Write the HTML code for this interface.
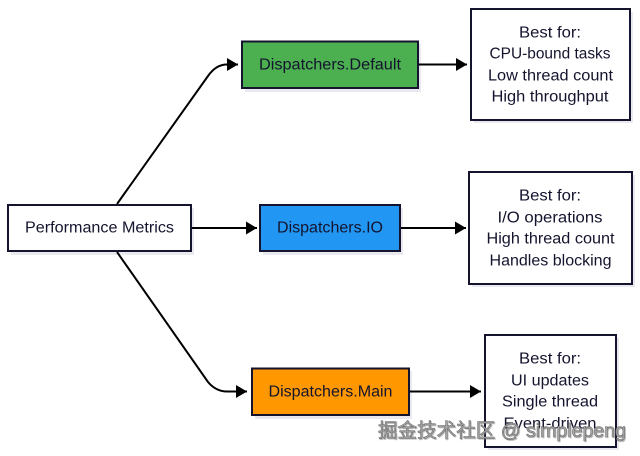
<!DOCTYPE html>
<html>
<head>
<meta charset="utf-8">
<style>
html,body{margin:0;padding:0;background:#fff;width:640px;height:456px;overflow:hidden}
svg{display:block}
text{font-family:"Liberation Sans","Noto Sans CJK SC",sans-serif;font-size:15.500px;fill:#14142e;text-anchor:middle}
text.w{font-size:19.500px;fill:#a8a8a8;stroke:#6f6f6f;stroke-width:.6px;text-anchor:start;filter:drop-shadow(1px 1px 0 rgba(120,120,120,.45))}
</style>
</head>
<body>
<svg width="640" height="456" viewBox="0 0 640 456" xmlns="http://www.w3.org/2000/svg">
<defs>
<marker id="a" markerUnits="userSpaceOnUse" markerWidth="12" markerHeight="14" refX="11" refY="6.500" orient="auto"><path d="M0 0L11 6.500L0 13Z" fill="#000"/></marker>
</defs>
<g fill="#e9e9ef">
<rect x="11" y="208" width="183" height="47"/>
<rect x="245" y="44" width="176" height="48"/>
<rect x="263" y="208" width="140" height="47"/>
<rect x="255" y="371" width="157" height="48"/>
<rect x="474" y="12" width="159" height="111"/>
<rect x="472" y="175" width="163" height="112"/>
<rect x="488" y="338" width="131" height="112"/>
</g>
<g fill="none" stroke="#000" stroke-width="2">
<path d="M117 204L208 76Q216 64.500 227 64.500L238 64.500" marker-end="url(#a)"/>
<path d="M117 252L208 382Q216 391.500 227 391.500L247 391.500" marker-end="url(#a)"/>
<path d="M191 228H257" marker-end="url(#a)"/>
<path d="M418 64.500H467" marker-end="url(#a)"/>
<path d="M400 228H466" marker-end="url(#a)"/>
<path d="M409 391.500H481" marker-end="url(#a)"/>
</g>
<g stroke="#14142e" stroke-width="2">
<rect x="8" y="205" width="183" height="46" fill="#fff"/>
<rect x="242" y="41.500" width="176" height="46.500" fill="#4caf50"/>
<rect x="260" y="205" width="140" height="46" fill="#2196f3"/>
<rect x="252" y="368.500" width="157" height="46.500" fill="#ff9800"/>
<rect x="471" y="9" width="159" height="111" fill="#fff"/>
<rect x="469" y="172" width="163" height="112" fill="#fff"/>
<rect x="485" y="335" width="131" height="112" fill="#fff"/>
</g>
<text x="99.500" y="232.500" textLength="149" lengthAdjust="spacingAndGlyphs">Performance Metrics</text>
<text x="330" y="69.500" textLength="142" lengthAdjust="spacingAndGlyphs">Dispatchers.Default</text>
<text x="330" y="232.500" textLength="106" lengthAdjust="spacingAndGlyphs">Dispatchers.IO</text>
<text x="330.500" y="396.500" textLength="124" lengthAdjust="spacingAndGlyphs">Dispatchers.Main</text>
<text x="550" y="37.500" textLength="62" lengthAdjust="spacingAndGlyphs">Best for:</text>
<text x="550" y="58.500" textLength="121" lengthAdjust="spacingAndGlyphs">CPU-bound tasks</text>
<text x="550.500" y="80.500" textLength="125" lengthAdjust="spacingAndGlyphs">Low thread count</text>
<text x="550" y="101.500" textLength="117" lengthAdjust="spacingAndGlyphs">High throughput</text>
<text x="550" y="200.500" textLength="62" lengthAdjust="spacingAndGlyphs">Best for:</text>
<text x="550" y="222.500" textLength="105" lengthAdjust="spacingAndGlyphs">I/O operations</text>
<text x="550.500" y="243.500" textLength="128" lengthAdjust="spacingAndGlyphs">High thread count</text>
<text x="550.500" y="265.500" textLength="122" lengthAdjust="spacingAndGlyphs">Handles blocking</text>
<text x="550" y="363.500" textLength="62" lengthAdjust="spacingAndGlyphs">Best for:</text>
<text x="550" y="385.500" textLength="78" lengthAdjust="spacingAndGlyphs">UI updates</text>
<text x="550" y="406.500" textLength="96" lengthAdjust="spacingAndGlyphs">Single thread</text>
<text x="550" y="428.500" textLength="93" lengthAdjust="spacingAndGlyphs">Event-driven</text>
<text class="w" x="378" y="437" textLength="248" lengthAdjust="spacingAndGlyphs">掘金技术社区 @ simplepeng</text>
</svg>
</body>
</html>
